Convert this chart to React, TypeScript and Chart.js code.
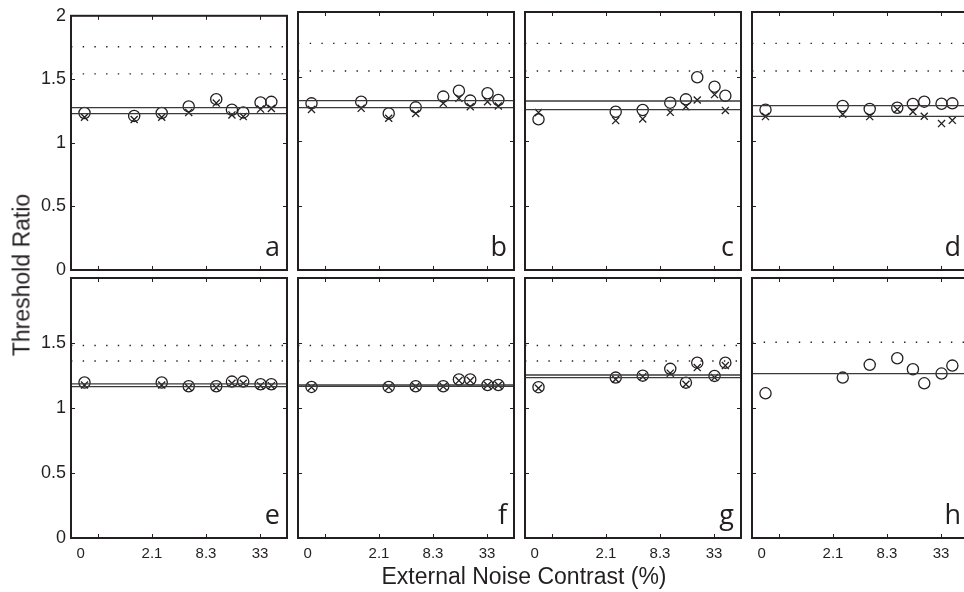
import React, { useEffect, useRef } from "react";
import { Chart, registerables } from "chart.js";

Chart.register(...registerables);

// x positions on the log-spaced noise-contrast axis (axis units: tick "2.1" = 1, "8.3" = 2, "33" = 3)
const noiseAll = [-0.25, 0.67, 1.18, 1.68, 2.19, 2.48, 2.69, 3.01, 3.21];
const noiseMost = [-0.25, 1.18, 1.68, 2.19, 2.48, 2.69, 3.01, 3.21];

const xTickPositions = [-0.32, 1, 2, 3];
const xTickLabels = ["0", "2.1", "8.3", "33"];
const xTickMarks = [0, 1, 2, 3];
const yTickMarks = [0.5, 1, 1.5];
const yTicksTopRow = [0, 0.5, 1, 1.5, 2];
const yTicksBottomRow = [0, 0.5, 1, 1.5];

const circlesA = [1.235, 1.212, 1.235, 1.287, 1.344, 1.261, 1.24, 1.318, 1.323];
const crossesA = [1.202, 1.184, 1.202, 1.24, 1.313, 1.22, 1.207, 1.266, 1.271];
const linesA = [1.277, 1.23];

const circlesB = [1.292, 1.305, 1.214, 1.261, 1.344, 1.39, 1.313, 1.37, 1.318];
const crossesB = [1.245, 1.253, 1.176, 1.214, 1.292, 1.331, 1.266, 1.305, 1.271];
const linesB = [1.313, 1.258];

const circlesC = [1.168, 1.227, 1.24, 1.297, 1.323, 1.494, 1.421, 1.351];
const crossesC = [1.22, 1.158, 1.171, 1.222, 1.266, 1.318, 1.36, 1.237];
const linesC = [1.31, 1.243];

const circlesD = [1.242, 1.271, 1.248, 1.258, 1.287, 1.305, 1.289, 1.292];
const crossesD = [1.189, 1.207, 1.189, 1.245, 1.227, 1.192, 1.135, 1.16];
const linesD = [1.274, 1.191];

const circlesE = [1.196, 1.196, 1.167, 1.167, 1.203, 1.203, 1.183, 1.183];
const crossesE = [1.177, 1.177, 1.157, 1.157, 1.19, 1.19, 1.172, 1.172];
const linesE = [1.185, 1.164];

const circlesF = [1.162, 1.162, 1.167, 1.167, 1.219, 1.219, 1.177, 1.177];
const crossesF = [1.16, 1.16, 1.165, 1.165, 1.211, 1.211, 1.175, 1.175];
const linesF = [1.177, 1.167];

const circlesG = [1.16, 1.234, 1.249, 1.301, 1.195, 1.349, 1.247, 1.349];
const crossesG = [1.152, 1.221, 1.241, 1.268, 1.183, 1.311, 1.234, 1.326];
const linesG = [1.254, 1.234];

const circlesH = [1.113, 1.234, 1.332, 1.383, 1.298, 1.19, 1.265, 1.326];
const linesH = [1.265];

const dottedTopRow = [1.543, 1.757];
const dottedBottomRow = [1.362, 1.481];
const dottedH = [1.506];

const panelLetters = ["a", "b", "c", "d", "e", "f", "g", "h"];

const INK = "#231f20";
const SANS = '"Liberation Sans", Arial, Helvetica, sans-serif';

const CW = 980;
const CH = 592;
const colLeft = [71, 298, 525, 752];
const panelW = 216;
const rowTop = [12, 278];
const rowH = [258, 260];
const YW = 60;
const XH = 32;

type Panel = {
  x: number[];
  circles: number[];
  crosses: number[] | null;
  lines: number[];
  dotted: number[];
};

const panels: Panel[] = [
  { x: noiseAll, circles: circlesA, crosses: crossesA, lines: linesA, dotted: dottedTopRow },
  { x: noiseAll, circles: circlesB, crosses: crossesB, lines: linesB, dotted: dottedTopRow },
  { x: noiseMost, circles: circlesC, crosses: crossesC, lines: linesC, dotted: dottedTopRow },
  { x: noiseMost, circles: circlesD, crosses: crossesD, lines: linesD, dotted: dottedTopRow },
  { x: noiseMost, circles: circlesE, crosses: crossesE, lines: linesE, dotted: dottedBottomRow },
  { x: noiseMost, circles: circlesF, crosses: crossesF, lines: linesF, dotted: dottedBottomRow },
  { x: noiseMost, circles: circlesG, crosses: crossesG, lines: linesG, dotted: dottedBottomRow },
  { x: noiseMost, circles: circlesH, crosses: null, lines: linesH, dotted: dottedH },
];

const framePlugin = {
  id: "frame",
  afterDatasetsDraw(chart: any, _args: any, opts: any) {
    const { ctx, chartArea, scales } = chart;
    const { left, top, right, bottom } = chartArea;
    const x = scales.x;
    const y = scales.y;
    ctx.save();
    ctx.strokeStyle = INK;
    ctx.lineWidth = 1;
    ctx.beginPath();
    xTickMarks.forEach((v) => {
      const px = Math.round(x.getPixelForValue(v)) + 0.5;
      ctx.moveTo(px, top);
      ctx.lineTo(px, top + 4);
      ctx.moveTo(px, bottom);
      ctx.lineTo(px, bottom - 4);
    });
    yTickMarks.forEach((v) => {
      const py = Math.round(y.getPixelForValue(v)) + 0.5;
      ctx.moveTo(left, py);
      ctx.lineTo(left + 4, py);
      ctx.moveTo(right, py);
      ctx.lineTo(right - 4, py);
    });
    ctx.stroke();
    ctx.lineWidth = 2;
    ctx.strokeRect(left, top, right - left, bottom - top);
    ctx.fillStyle = INK;
    ctx.font = '27px "Open Sans", sans-serif';
    ctx.textAlign = "right";
    ctx.textBaseline = "alphabetic";
    ctx.fillText(opts.letter, right - 7, bottom - 14);
    ctx.restore();
  },
};

function makeConfig(p: Panel, idx: number): any {
  const col = idx % 4;
  const row = Math.floor(idx / 4);
  const L = colLeft[col];
  const T = rowTop[row];
  const H = rowH[row];
  const isLeft = col === 0;
  const isBottom = row === 1;
  const yTicks = row === 0 ? yTicksTopRow : yTicksBottomRow;

  const datasets: any[] = [];
  p.dotted.forEach((v) => {
    datasets.push({
      data: [
        { x: -0.5, y: v },
        { x: 3.5, y: v },
      ],
      showLine: true,
      borderColor: INK,
      borderWidth: 1.4,
      borderDash: [1.4, 10.3],
      pointRadius: 0,
    });
  });
  p.lines.forEach((v) => {
    datasets.push({
      data: [
        { x: -0.5, y: v },
        { x: 3.5, y: v },
      ],
      showLine: true,
      borderColor: "#3a3a3a",
      borderWidth: 1.3,
      pointRadius: 0,
    });
  });
  if (p.crosses) {
    const cr = p.crosses;
    datasets.push({
      data: p.x.map((xv, i) => ({ x: xv, y: cr[i] })),
      pointStyle: "crossRot",
      pointRadius: 5,
      borderColor: INK,
      backgroundColor: INK,
      borderWidth: 1.3,
    });
  }
  datasets.push({
    data: p.x.map((xv, i) => ({ x: xv, y: p.circles[i] })),
    pointStyle: "circle",
    pointRadius: 5.6,
    borderColor: INK,
    backgroundColor: "rgba(0,0,0,0)",
    borderWidth: 1.3,
  });

  return {
    type: "scatter",
    data: { datasets },
    plugins: [framePlugin],
    options: {
      responsive: false,
      animation: false,
      devicePixelRatio: 1,
      events: [],
      layout: {
        padding: {
          left: L - (isLeft ? YW : 0),
          top: T,
          right: CW - L - panelW,
          bottom: CH - T - H - (isBottom ? XH : 0),
        },
      },
      plugins: {
        legend: { display: false },
        tooltip: { enabled: false },
        frame: { letter: panelLetters[idx] },
      },
      scales: {
        x: {
          type: "linear",
          min: -0.5,
          max: 3.5,
          display: isBottom,
          grid: { display: false, drawTicks: false },
          border: { display: false },
          afterBuildTicks: (s: any) => {
            s.ticks = xTickPositions.map((v) => ({ value: v }));
          },
          afterFit: (s: any) => {
            s.height = isBottom ? XH : 0;
          },
          ticks: {
            callback: (_v: any, i: number) => xTickLabels[i],
            font: { family: SANS, size: 15 },
            color: INK,
            padding: 7,
            maxRotation: 0,
            autoSkip: false,
          },
        },
        y: {
          type: "linear",
          min: 0,
          max: 2,
          display: isLeft,
          grid: { display: false, drawTicks: false },
          border: { display: false },
          afterBuildTicks: (s: any) => {
            s.ticks = yTicks.map((v) => ({ value: v }));
          },
          afterFit: (s: any) => {
            s.width = isLeft ? YW : 0;
          },
          ticks: {
            callback: (v: any) => String(v),
            font: { family: SANS, size: 18 },
            color: INK,
            padding: 5,
            autoSkip: false,
          },
        },
      },
    },
  };
}

export default function App() {
  const refs = useRef<(HTMLCanvasElement | null)[]>([]);

  useEffect(() => {
    const charts = panels.map((p, i) => {
      const c = refs.current[i] as HTMLCanvasElement;
      return new Chart(c, makeConfig(p, i));
    });
    return () => charts.forEach((c) => c.destroy());
  }, []);

  return (
    <div
      style={{
        position: "fixed",
        left: 0,
        top: 0,
        width: 964,
        height: 592,
        overflow: "hidden",
        background: "#ffffff",
      }}
    >
      {panels.map((_, i) => (
        <canvas
          key={i}
          ref={(el) => {
            refs.current[i] = el;
          }}
          width={CW}
          height={CH}
          style={{ position: "absolute", left: 0, top: 0, width: CW, height: CH }}
        />
      ))}
      <div
        style={{
          position: "absolute",
          left: 22,
          top: 275,
          transform: "translate(-50%, -50%) rotate(-90deg)",
          font: `23px ${SANS}`,
          color: INK,
          whiteSpace: "nowrap",
          lineHeight: "23px",
        }}
      >
        Threshold Ratio
      </div>
      <div
        style={{
          position: "absolute",
          left: 524,
          top: 565,
          transform: "translateX(-50%)",
          font: `23px ${SANS}`,
          color: INK,
          whiteSpace: "nowrap",
          lineHeight: "23px",
        }}
      >
        External Noise Contrast (%)
      </div>
    </div>
  );
}
